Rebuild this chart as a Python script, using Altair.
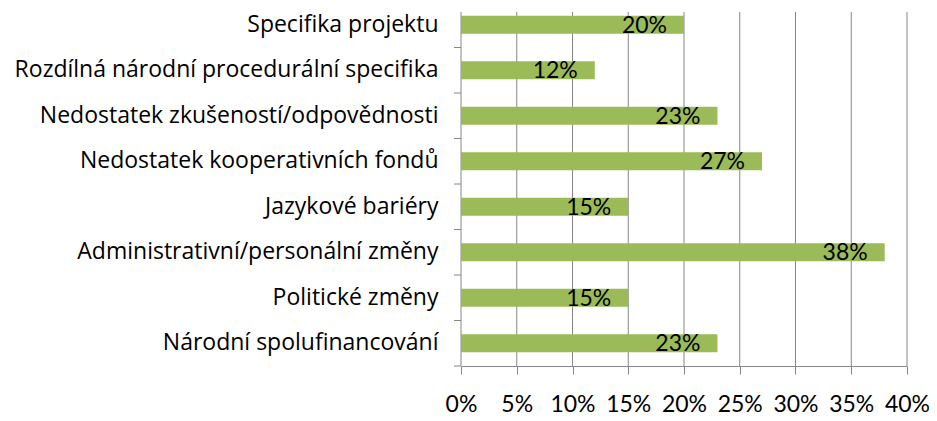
import altair as alt
import pandas as pd

categories = [
    "Specifika projektu",
    "Rozdílná národní procedurální specifika",
    "Nedostatek zkušeností/odpovědnosti",
    "Nedostatek kooperativních fondů",
    "Jazykové bariéry",
    "Administrativní/personální změny",
    "Politické změny",
    "Národní spolufinancování",
]
values = [0.20, 0.12, 0.23, 0.27, 0.15, 0.38, 0.15, 0.23]
x_ticks = [0.0, 0.05, 0.10, 0.15, 0.20, 0.25, 0.30, 0.35, 0.40]

df = pd.DataFrame({"cat": categories, "val": values})
grid_df = pd.DataFrame({"t": x_ticks})

W, H = 446, 354
FONT = "Lato"
CAT_FONT = "Open Sans"
GRID = "#868686"
BAR = "#9BBB59"

xscale = alt.Scale(domain=[0, 0.4], nice=False, zero=True)
yscale = alt.Scale(domain=categories, range=[-10, H], paddingInner=0, paddingOuter=0)

x_axis = alt.Axis(
    values=x_ticks,
    format=".0%",
    title=None,
    grid=False,
    domain=True,
    domainColor=GRID,
    ticks=True,
    tickColor=GRID,
    tickSize=8,
    labelFont=FONT,
    labelFontSize=23,
    labelColor="#000000",
    labelPadding=19,
    labelOverlap=False,
    labelBound=False,
    labelFlush=False,
)
y_axis = alt.Axis(
    title=None,
    domain=False,
    ticks=False,
    tickSize=0,
    grid=False,
    labelFont=CAT_FONT,
    labelFontSize=23,
    labelColor="#000000",
    labelPadding=23,
    labelLimit=600,
)

grid = alt.Chart(grid_df).mark_rule(color=GRID, strokeWidth=1).encode(
    x=alt.X("t:Q", scale=xscale, axis=x_axis),
    y=alt.value(0),
    y2=alt.value(H),
)

bars = alt.Chart(df).mark_bar(color=BAR, size=18).encode(
    x=alt.X("val:Q", scale=xscale, axis=x_axis),
    y=alt.Y("cat:N", scale=yscale, sort=categories, axis=y_axis),
)

yticks = alt.Chart(df).mark_rule(color=GRID, strokeWidth=1).encode(
    y=alt.Y("cat:N", scale=yscale, sort=categories, bandPosition=1, axis=y_axis),
    x=alt.value(-7),
    x2=alt.value(0),
)

labels = alt.Chart(df).mark_text(
    align="right", baseline="middle", dx=-17, dy=1, font=FONT, fontSize=23, color="#000000"
).encode(
    x=alt.X("val:Q", scale=xscale, axis=x_axis),
    y=alt.Y("cat:N", scale=yscale, sort=categories, axis=y_axis),
    text=alt.Text("val:Q", format=".0%"),
)

chart = (
    alt.layer(grid, bars, yticks, labels)
    .properties(
        width=W,
        height=H,
        autosize=alt.AutoSizeParams(type="none"),
        padding={"left": 453, "top": 4, "right": 22, "bottom": 55},
    )
    .configure_view(stroke=None)
)

chart.save("out.html", embed_options={"renderer": "svg", "actions": False})
